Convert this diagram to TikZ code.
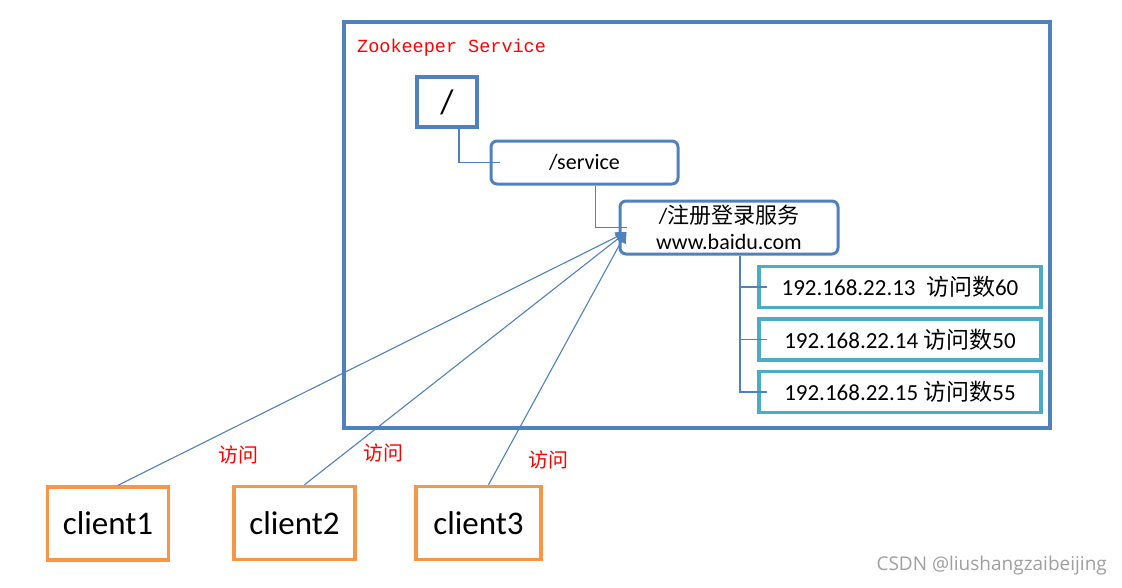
\documentclass[tikz,border=0pt]{standalone}
\usepackage{fontspec}
\setmainfont{Carlito}
\newfontfamily\cjk{Noto Sans CJK SC}
\newfontfamily\zkfont{Liberation Mono}
\newfontfamily\wmfont{Open Sans}
\usetikzlibrary{arrows.meta}
\definecolor{zkblue}{HTML}{4F81BD}
\definecolor{ipteal}{HTML}{4BACC6}
\definecolor{clorange}{HTML}{F79646}
\begin{document}
\begin{tikzpicture}[x=1pt,y=-1pt,
  every node/.style={font=\fontsize{22}{26}\selectfont,inner sep=0pt},
  znode/.style={draw=zkblue,line width=3pt,rounded corners=6pt,fill=white},
  ipbox/.style={draw=ipteal,line width=3.5pt,fill=white,minimum width=282pt,minimum height=41pt,font=\fontsize{23}{26}\selectfont},
  client/.style={draw=clorange,line width=3.5pt,fill=white,minimum width=121pt,minimum height=73pt,font=\fontsize{33}{38}\selectfont},
  link/.style={zkblue,line width=1.1pt},
  visit/.style={red,font=\cjk\fontsize{20}{24}\selectfont}]
\useasboundingbox (0,0) rectangle (1122,587);
\node[draw=zkblue,line width=3.5pt,minimum width=706pt,minimum height=406pt] (zk) at (697,225) {};
\node[anchor=west,red,font=\zkfont\fontsize{18.5}{22}\selectfont] (zktitle) at (357,48) {Zookeeper Service};
% znode tree
\node[draw=zkblue,line width=4pt,minimum width=60pt,minimum height=50pt,font=\fontsize{34}{40}\selectfont] (root) at (447,102) {/};
\node[znode,minimum width=187pt,minimum height=43pt] (svc) at (584.5,162.5) {/service};
\node[znode,minimum width=218pt,minimum height=53pt,align=center] (reg) at (729,227.5) {/{\cjk 注册登录服务}\\www.baidu.com};
\node[ipbox] (ip1) at (900,287) {192.168.22.13\ \ {\cjk 访问数}60};
\node[ipbox] (ip2) at (900,339.5) {192.168.22.14 {\cjk 访问数}50};
\node[ipbox] (ip3) at (900,392) {192.168.22.15 {\cjk 访问数}55};
\draw[link] ([xshift=12pt]root.south) |- ([xshift=10pt]svc.west);
\draw[link] ([xshift=11pt]svc.south) |- ([xshift=8pt]reg.west);
\foreach \ip in {ip1,ip2,ip3}
  \draw[link] ([xshift=11pt]reg.south) |- ([xshift=10pt]\ip.west);
% clients
\node[client] (c1) at (108,523.5) {client1};
\node[client] (c2) at (294.5,523) {client2};
\node[client,minimum width=125pt] (c3) at (478.5,523) {client3};
\coordinate (tip) at ([shift={(8pt,-4.5pt)}]reg.west);
\foreach \c in {c1,c2,c3}
  \draw[link,-{Triangle[length=11pt,width=10pt]}] ([xshift=10pt]\c.north) -- (tip);
\node[visit] (v1) at (238,455) {访问};
\node[visit] (v2) at (383,453) {访问};
\node[visit] (v3) at (548,460) {访问};
\node[anchor=east,gray!75,font=\wmfont\fontsize{19}{22}\selectfont] (wm) at (1107,566) {CSDN @liushangzaibeijing};
\end{tikzpicture}
\end{document}
